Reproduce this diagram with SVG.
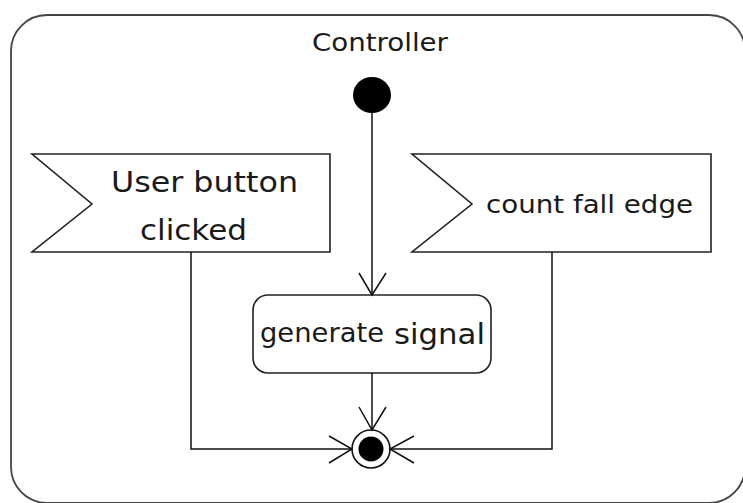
<svg xmlns="http://www.w3.org/2000/svg" width="743" height="503" viewBox="0 0 743 503">
  <style>
    .shape { fill: #ffffff; stroke: #222222; stroke-width: 1.6; }
    .edge { fill: none; stroke: #111111; stroke-width: 1.5; }
    .lbl { font-family: "DejaVu Sans", "Liberation Sans", sans-serif; fill: #1a1a1a; }
  </style>
  <rect width="743" height="503" fill="#ffffff"/>
  <g id="controller">
    <rect x="11" y="15" width="734" height="488" rx="36" ry="36" fill="#ffffff" stroke="#444444" stroke-width="1.8"/>
    <text class="lbl" x="312" y="51" font-size="24" textLength="136" lengthAdjust="spacingAndGlyphs">Controller</text>
  </g>
  <g id="initial">
    <ellipse cx="372" cy="95" rx="19" ry="18" fill="#000000"/>
  </g>
  <g id="user-button-clicked">
    <polygon class="shape" points="32,154 330,154 330,252 32,252 92,204"/>
    <text class="lbl" x="111" y="192" font-size="29" textLength="187" lengthAdjust="spacingAndGlyphs">User button</text>
    <text class="lbl" x="140" y="240" font-size="29" textLength="107" lengthAdjust="spacingAndGlyphs">clicked</text>
  </g>
  <g id="count-fall-edge">
    <polygon class="shape" points="412,154 711,154 711,252 412,252 472,204"/>
    <text class="lbl" x="486" y="213" font-size="25" textLength="207" lengthAdjust="spacingAndGlyphs">count fall edge</text>
  </g>
  <g id="generate-signal">
    <rect class="shape" x="253" y="295" width="238" height="78" rx="15" ry="15"/>
    <text class="lbl" x="260" y="342" font-size="27" textLength="124" lengthAdjust="spacingAndGlyphs">generate</text>
    <text class="lbl" x="394" y="344" font-size="29" textLength="91" lengthAdjust="spacingAndGlyphs">signal</text>
  </g>
  <g id="final">
    <circle cx="371" cy="449" r="19" fill="#ffffff" stroke="#111111" stroke-width="1.6"/>
    <circle cx="371" cy="449" r="12.5" fill="#000000"/>
  </g>
  <g id="connectors">
    <path class="edge" d="M372,113 L372,295"/>
    <path class="edge" d="M359,273 L372,295 L386,273"/>
    <path class="edge" d="M372,373 L372,430"/>
    <path class="edge" d="M359,407 L372,430 L386,407"/>
    <path class="edge" d="M191,252 L191,449 L352,449"/>
    <path class="edge" d="M329,436 L352,449 L329,463"/>
    <path class="edge" d="M552,252 L552,449 L390,449"/>
    <path class="edge" d="M414,436 L390,449 L414,463"/>
  </g>
</svg>
